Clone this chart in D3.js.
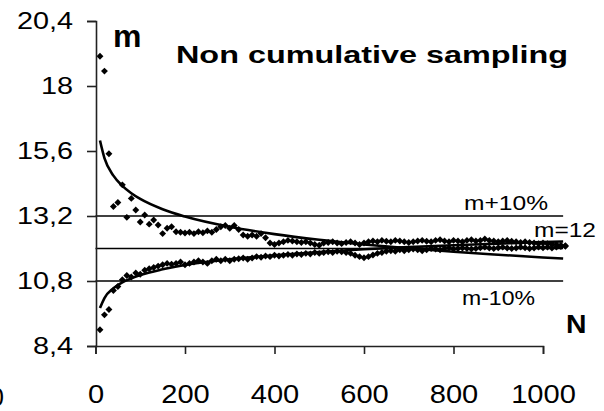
<!DOCTYPE html>
<html><head><meta charset="utf-8">
<script src="https://cdn.jsdelivr.net/npm/d3@7"></script>
<style>html,body{margin:0;padding:0;background:#fff;} svg{display:block;}</style>
</head><body><svg id="c" width="604" height="411"></svg>
<script>
// ---- data ----
const sampleN = [10,20,30,40,50,60,70,80,90,100,110,120,130,140,150,160,170,180,190,200,
210,220,230,240,250,260,270,280,290,300,310,320,330,340,350,360,370,380,390,400,
410,420,430,440,450,460,470,480,490,500,510,520,530,540,550,560,570,580,590,600,
610,620,630,640,650,660,670,680,690,700,710,720,730,740,750,760,770,780,790,800,
810,820,830,840,850,860,870,880,890,900,910,920,930,940,950,960,970,980,990,1000,
1010,1020,1030,1040,1050];
const upperSeries = [19.1,18.55,15.5,13.55,13.7,14.35,13.15,13.85,13.42,12.98,
13.24,12.9,13.05,12.87,12.55,12.75,12.8,12.62,12.6,12.57,
12.6,12.55,12.62,12.58,12.65,12.6,12.7,12.8,12.85,12.75,
12.85,12.7,12.5,12.45,12.5,12.45,12.55,12.4,12.2,12.15,
12.2,12.25,12.3,12.28,12.25,12.22,12.25,12.2,12.15,12.12,
12.2,12.22,12.25,12.2,12.18,12.22,12.25,12.2,12.15,12.2,
12.25,12.28,12.25,12.3,12.27,12.25,12.3,12.28,12.25,12.22,
12.25,12.28,12.3,12.27,12.25,12.3,12.32,12.28,12.25,12.3,
12.28,12.25,12.3,12.32,12.28,12.3,12.35,12.3,12.28,12.25,
12.28,12.3,12.27,12.25,12.22,12.25,12.22,12.2,12.18,12.2,
12.18,12.15,12.15,12.12,12.1];
const lowerSeries = [9.0,9.55,9.75,10.45,10.6,10.85,11.0,10.95,11.1,11.05,
11.2,11.25,11.3,11.35,11.4,11.45,11.42,11.45,11.5,11.4,
11.45,11.5,11.55,11.5,11.45,11.55,11.6,11.55,11.6,11.55,
11.6,11.62,11.65,11.6,11.65,11.7,11.68,11.72,11.7,11.75,
11.72,11.75,11.78,11.75,11.8,11.78,11.82,11.8,11.85,11.82,
11.85,11.88,11.85,11.9,11.88,11.85,11.82,11.75,11.7,11.66,
11.7,11.76,11.82,11.85,11.9,11.92,11.9,11.95,11.92,11.95,
11.98,11.95,11.92,11.95,12.0,11.98,11.95,12.0,12.02,11.98,
12.0,12.02,12.0,11.98,12.0,12.03,12.05,12.02,12.0,12.03,
12.05,12.02,12.0,12.02,12.05,12.03,12.0,12.02,12.05,12.03,
12.05,12.02,12.05,12.07,12.08];
const fitN = [10,20,40,60,80,100,150,200,300,400,500,600,700,800,900,1000,1045];
const upperFit = [15.99,15.34,14.69,14.31,14.04,13.83,13.45,13.18,12.80,12.53,12.32,12.15,12.01,11.88,11.77,11.67,11.63];
const lowerFit = [9.80,10.17,10.53,10.75,10.90,11.02,11.23,11.39,11.60,11.75,11.87,11.97,12.05,12.12,12.18,12.24,12.26];
const refLevels = [13.2, 12, 10.8];
const refLabels = ["m+10%", "m=12", "m-10%"];
const refSpanN = [0, 1045];
const yTicks = [8.4, 10.8, 13.2, 15.6, 18, 20.4];
const xTicks = [0, 200, 400, 600, 800, 1000];
const titleText = "Non cumulative sampling";
const yName = "m";
const xName = "N";

// ---- drawing ----
const svg = d3.select("#c");
const FONT = "'Liberation Sans', Arial, sans-serif";
const x = d3.scaleLinear().domain([0, 1000]).range([95.5, 543]);
const y = d3.scaleLinear().domain([8.4, 20.4]).range([346, 21]);

// reference lines
svg.append("g").selectAll("line").data(refLevels).join("line")
  .attr("x1", x(refSpanN[0])).attr("x2", x(refSpanN[1]))
  .attr("y1", d => y(d)).attr("y2", d => y(d))
  .attr("stroke", "#000").attr("stroke-width", 1.6);

// fitted curves
const line = d3.line().x((d, i) => x(fitN[i])).y(d => y(d)).curve(d3.curveMonotoneX);
[upperFit, lowerFit].forEach(arr => {
  svg.append("path").attr("d", line(arr)).attr("fill", "none")
    .attr("stroke", "#000").attr("stroke-width", 2.6);
});

// scatter points
const sym = d3.symbol().type(d3.symbolSquare).size(24)();
[upperSeries, lowerSeries].forEach(arr => {
  svg.append("g").selectAll("path").data(arr).join("path")
    .attr("d", sym)
    .attr("transform", (d, i) => `translate(${x(sampleN[i])},${y(d)}) rotate(45)`)
    .attr("fill", "#000");
});

// axes
function stretch(sel, k) {
  sel.each(function() {
    const w = this.getComputedTextLength();
    d3.select(this).attr("textLength", w * k).attr("lengthAdjust", "spacingAndGlyphs");
  });
}
const yAxis = svg.append("g").attr("transform", `translate(96,0)`)
  .call(d3.axisLeft(y).tickValues(yTicks).tickSize(9).tickPadding(14)
    .tickFormat(d => String(d).replace(".", ",")));
const xAxis = svg.append("g").attr("transform", `translate(0,346)`)
  .call(d3.axisBottom(x).tickValues(xTicks).tickSize(8).tickPadding(31)
    .tickFormat(d => String(d)));
[yAxis, xAxis].forEach(g => {
  g.select(".domain").attr("stroke", "#222").attr("stroke-width", 1.6);
  g.selectAll(".tick line").attr("stroke", "#222").attr("stroke-width", 1.6);
  g.selectAll("text").attr("fill", "#000").style("font-family", FONT);
});
yAxis.selectAll("text").style("font-size", "24px");
xAxis.selectAll("text").style("font-size", "25.5px");
stretch(yAxis.selectAll("text"), 1.2);
stretch(xAxis.selectAll("text"), 1.14);

// title and axis names
svg.append("text").attr("x", 176).attr("y", 62.5).text(titleText)
  .style("font-family", FONT).style("font-weight", "bold").style("font-size", "24px")
  .attr("fill", "#000")
  .attr("textLength", 392).attr("lengthAdjust", "spacingAndGlyphs");

svg.append("text").attr("x", 113).attr("y", 47).text(yName)
  .style("font-family", FONT).style("font-weight", "bold").style("font-size", "32px");
svg.append("text").attr("x", 566).attr("y", 333).text(xName)
  .style("font-family", FONT).style("font-weight", "bold").style("font-size", "25px")
  .attr("textLength", 20.5).attr("lengthAdjust", "spacingAndGlyphs");

// reference labels
const labelPos = [{x: 464, dy: -6, w: 84}, {x: 534, dy: -11.5, w: 62}, {x: 462, dy: 24, w: 73}];
refLabels.forEach((s, i) => {
  svg.append("text").attr("x", labelPos[i].x).attr("y", y(refLevels[i]) + labelPos[i].dy)
    .text(s).style("font-family", FONT).style("font-size", "21px")
    .attr("textLength", labelPos[i].w).attr("lengthAdjust", "spacingAndGlyphs");
});

// cut-off glyph at the left edge (as in the reference)
svg.append("text").attr("x", 4).attr("y", 406).attr("text-anchor", "end").text("0")
  .style("font-family", FONT).style("font-size", "25.5px");
</script>
</body></html>
